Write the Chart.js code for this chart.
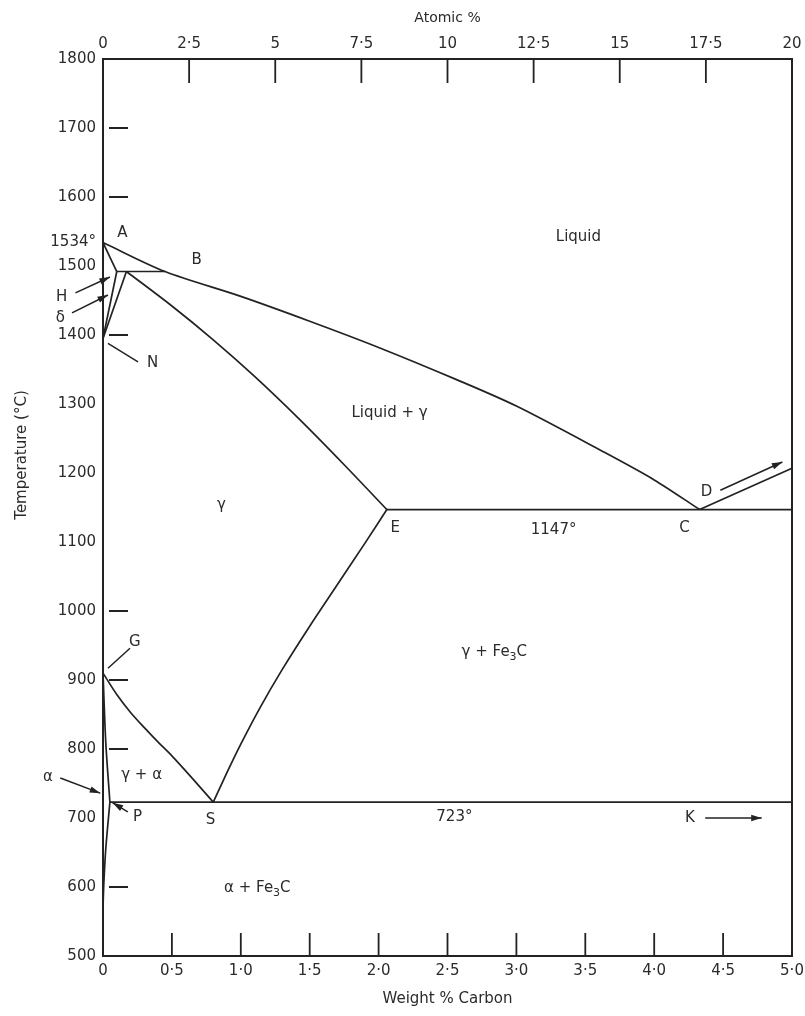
<!DOCTYPE html>
<html>
<head>
<meta charset="utf-8">
<title>Iron-carbon phase diagram</title>
<script src="https://cdn.jsdelivr.net/npm/chart.js@4.4.1/dist/chart.umd.min.js"></script>
<style>
  html, body { margin: 0; padding: 0; background: #fff; }
  canvas { display: block; }
</style>
</head>
<body>
<canvas id="phase-diagram" width="805" height="1016"></canvas>
<script>
// tick values and labels
const weightTicks = [0, 0.5, 1, 1.5, 2, 2.5, 3, 3.5, 4, 4.5, 5];
const weightLabels = ['0', '0·5', '1·0', '1·5', '2·0', '2·5', '3·0', '3·5', '4·0', '4·5', '5·0'];
const atomicTicks = [0, 2.5, 5, 7.5, 10, 12.5, 15, 17.5, 20];
const atomicLabels = ['0', '2·5', '5', '7·5', '10', '12·5', '15', '17·5', '20'];
const tempTicks = [500, 600, 700, 800, 900, 1000, 1100, 1200, 1300, 1400, 1500, 1534, 1600, 1700, 1800];
const tempLabels = ['500', '600', '700', '800', '900', '1000', '1100', '1200', '1300', '1400', '1500', '1534°', '1600', '1700', '1800'];
const innerTempTicks = [600, 800, 900, 1000, 1400, 1600, 1700];

// phase boundaries, weight % C against temperature (°C)
const liquidusC = [0, 0.45, 1.0, 1.5, 2.0, 2.57, 3.0, 3.61, 4.0, 4.33];
const liquidusT = [1534, 1492, 1456, 1420, 1382, 1335, 1297, 1233, 1190, 1147];
const deltaSolidusC = [0, 0.1];
const deltaSolidusT = [1534, 1492];
const peritecticC = [0.1, 0.45];
const peritecticT = [1492, 1492];
const deltaLimitC = [0.1, 0];
const deltaLimitT = [1492, 1395];
const gammaLimitC = [0.17, 0];
const gammaLimitT = [1492, 1395];
const solidusC = [0.17, 0.5, 0.8, 1.1, 1.43, 1.75, 2.06];
const solidusT = [1492, 1442, 1393, 1340, 1277, 1212, 1147];
const eutecticC = [2.06, 5.0];
const eutecticT = [1147, 1147];
const cementiteC = [4.33, 5.0];
const cementiteT = [1147, 1207];
const a3C = [0, 0.1, 0.2, 0.3, 0.4, 0.5, 0.65, 0.8];
const a3T = [910, 879, 853, 831, 810, 790, 757, 723];
const acmC = [0.8, 0.9, 1.0, 1.14, 1.3, 1.5, 1.7, 1.9, 2.06];
const acmT = [723, 766, 807, 860, 915, 978, 1038, 1098, 1147];
const eutectoidC = [0.05, 5.0];
const eutectoidT = [723, 723];
const ferriteC = [0, 0.02, 0.05];
const ferriteT = [910, 810, 723];
const solvusC = [0.05, 0.02, 0.006, 0];
const solvusT = [723, 655, 605, 570];

const boundaries = [
  [liquidusC, liquidusT, 0.3],
  [deltaSolidusC, deltaSolidusT, 0],
  [peritecticC, peritecticT, 0],
  [deltaLimitC, deltaLimitT, 0],
  [gammaLimitC, gammaLimitT, 0],
  [solidusC, solidusT, 0.3],
  [eutecticC, eutecticT, 0],
  [cementiteC, cementiteT, 0],
  [a3C, a3T, 0.3],
  [acmC, acmT, 0.3],
  [eutectoidC, eutectoidT, 0],
  [ferriteC, ferriteT, 0.3],
  [solvusC, solvusT, 0.3]
];

const datasets = boundaries.map(([cs, ts, tension]) => ({
  data: cs.map((c, i) => ({ x: c, y: ts[i] })),
  showLine: true,
  borderColor: '#222',
  borderWidth: 1.7,
  pointRadius: 0,
  tension: tension,
  clip: 6,
  xAxisID: 'x',
  yAxisID: 'y'
}));

const INK = '#2b2b2b';
const FONT = '"DejaVu Sans", sans-serif';

// text in the diagram, placed at (wt % C, °C)
const labels = [
  { parts: [['A']], c: 0.14, t: 1548 },
  { parts: [['B']], c: 0.68, t: 1509 },
  { parts: [['H']], c: -0.30, t: 1455 },
  { parts: [['δ']], c: -0.31, t: 1425 },
  { parts: [['N']], c: 0.36, t: 1359 },
  { parts: [['Liquid']], c: 3.45, t: 1542 },
  { parts: [['Liquid + γ']], c: 2.08, t: 1287 },
  { parts: [['γ']], c: 0.86, t: 1154 },
  { parts: [['E']], c: 2.12, t: 1120 },
  { parts: [['1147°']], c: 3.27, t: 1117 },
  { parts: [['C']], c: 4.22, t: 1120 },
  { parts: [['D']], c: 4.38, t: 1172 },
  { parts: [['G']], c: 0.23, t: 955 },
  { parts: [['γ + Fe'], ['3', 1], ['C']], c: 2.84, t: 941 },
  { parts: [['γ + α']], c: 0.28, t: 762 },
  { parts: [['α']], c: -0.40, t: 759 },
  { parts: [['P']], c: 0.25, t: 701 },
  { parts: [['S']], c: 0.78, t: 697 },
  { parts: [['723°']], c: 2.55, t: 701 },
  { parts: [['K']], c: 4.26, t: 700 },
  { parts: [['α + Fe'], ['3', 1], ['C']], c: 1.12, t: 599 }
];

// pointers: from -> to, head at the "to" end
const pointers = [
  { from: [-0.20, 1461], to: [0.05, 1484], head: true },
  { from: [-0.225, 1432], to: [0.036, 1458], head: true },
  { from: [-0.31, 758], to: [-0.02, 736], head: true },
  { from: [0.18, 709], to: [0.07, 722], head: true },
  { from: [4.48, 1175], to: [4.93, 1216], head: true },
  { from: [4.37, 700], to: [4.78, 700], head: true },
  { from: [0.036, 917], to: [0.196, 946], head: false },
  { from: [0.036, 1388], to: [0.254, 1361], head: false }
];

function drawParts(ctx, parts, x, y) {
  let total = 0;
  const widths = parts.map(([txt, sub]) => {
    ctx.font = (sub ? '11px ' : '15px ') + FONT;
    const w = ctx.measureText(txt).width;
    total += w;
    return w;
  });
  let cx = x - total / 2;
  parts.forEach(([txt, sub], i) => {
    ctx.font = (sub ? '11px ' : '15px ') + FONT;
    ctx.fillText(txt, cx, sub ? y + 5 : y);
    cx += widths[i];
  });
}

const diagramDecor = {
  id: 'diagramDecor',
  afterDatasetsDraw(chart) {
    const { ctx, chartArea: a, scales } = chart;
    const xs = scales.x, ys = scales.y, x2 = scales.x2;
    ctx.save();

    // frame
    ctx.strokeStyle = '#222';
    ctx.lineWidth = 2;
    ctx.strokeRect(a.left, a.top, a.right - a.left, a.bottom - a.top);

    // inward ticks
    ctx.lineWidth = 1.8;
    ctx.beginPath();
    weightTicks.slice(1, -1).forEach(v => {
      const px = xs.getPixelForValue(v);
      ctx.moveTo(px, a.bottom);
      ctx.lineTo(px, a.bottom - 23);
    });
    atomicTicks.slice(1, -1).forEach(v => {
      const px = x2.getPixelForValue(v);
      ctx.moveTo(px, a.top);
      ctx.lineTo(px, a.top + 24);
    });
    innerTempTicks.forEach(v => {
      const py = ys.getPixelForValue(v);
      ctx.moveTo(a.left + 6, py);
      ctx.lineTo(a.left + 25, py);
    });
    ctx.stroke();

    // pointers
    ctx.lineWidth = 1.5;
    pointers.forEach(p => {
      const x0 = xs.getPixelForValue(p.from[0]), y0 = ys.getPixelForValue(p.from[1]);
      const x1 = xs.getPixelForValue(p.to[0]), y1 = ys.getPixelForValue(p.to[1]);
      ctx.beginPath();
      ctx.moveTo(x0, y0);
      ctx.lineTo(x1, y1);
      ctx.stroke();
      if (p.head) {
        const ang = Math.atan2(y1 - y0, x1 - x0);
        ctx.beginPath();
        ctx.moveTo(x1, y1);
        ctx.lineTo(x1 - 11 * Math.cos(ang - 0.3), y1 - 11 * Math.sin(ang - 0.3));
        ctx.lineTo(x1 - 11 * Math.cos(ang + 0.3), y1 - 11 * Math.sin(ang + 0.3));
        ctx.closePath();
        ctx.fillStyle = '#222';
        ctx.fill();
      }
    });

    // labels
    ctx.fillStyle = INK;
    ctx.textAlign = 'left';
    ctx.textBaseline = 'middle';
    labels.forEach(l => {
      drawParts(ctx, l.parts, xs.getPixelForValue(l.c), ys.getPixelForValue(l.t));
    });

    // temperature title
    ctx.translate(22, 455);
    ctx.rotate(-Math.PI / 2);
    ctx.textAlign = 'center';
    ctx.font = '15px ' + FONT;
    ctx.fillText('Temperature (°C)', 0, 0);
    ctx.restore();
  }
};

const ctx = document.getElementById('phase-diagram').getContext('2d');

const chart = new Chart(ctx, {
  type: 'scatter',
  data: { datasets: datasets },
  options: {
    responsive: false,
    animation: false,
    layout: { padding: { left: 0, right: 13, top: 0, bottom: 0 } },
    plugins: {
      legend: { display: false },
      tooltip: { enabled: false }
    },
    scales: {
      x: {
        type: 'linear',
        position: 'bottom',
        min: 0,
        max: 5,
        afterBuildTicks: s => { s.ticks = weightTicks.map(v => ({ value: v })); },
        afterFit: s => { s.height = 60; s.paddingLeft = 0; s.paddingRight = 0; },
        grid: { display: false, drawTicks: false },
        border: { display: false },
        ticks: {
          autoSkip: false,
          maxRotation: 0,
          padding: 6,
          color: INK,
          font: { family: FONT, size: 15 },
          callback: (v, i) => weightLabels[i]
        },
        title: {
          display: true,
          text: 'Weight % Carbon',
          color: INK,
          font: { family: FONT, size: 15 },
          padding: { top: 0, bottom: 8 }
        }
      },
      x2: {
        type: 'linear',
        position: 'top',
        min: 0,
        max: 20,
        afterBuildTicks: s => { s.ticks = atomicTicks.map(v => ({ value: v })); },
        afterFit: s => { s.height = 59; s.paddingLeft = 0; s.paddingRight = 0; },
        grid: { display: false, drawTicks: false },
        border: { display: false },
        ticks: {
          autoSkip: false,
          maxRotation: 0,
          padding: 6,
          color: INK,
          font: { family: FONT, size: 15 },
          callback: (v, i) => atomicLabels[i]
        },
        title: {
          display: true,
          text: 'Atomic %',
          color: INK,
          font: { family: FONT, size: 14 },
          padding: { top: 10, bottom: 0 }
        }
      },
      y: {
        type: 'linear',
        position: 'left',
        min: 500,
        max: 1800,
        afterBuildTicks: s => { s.ticks = tempTicks.map(v => ({ value: v })); },
        afterFit: s => { s.width = 103; s.paddingTop = 0; s.paddingBottom = 0; },
        grid: { display: false, drawTicks: false },
        border: { display: false },
        ticks: {
          autoSkip: false,
          padding: 7,
          color: INK,
          font: { family: FONT, size: 15 },
          callback: (v, i) => tempLabels[i]
        }
      }
    }
  },
  plugins: [diagramDecor]
});
</script>
</body>
</html>
